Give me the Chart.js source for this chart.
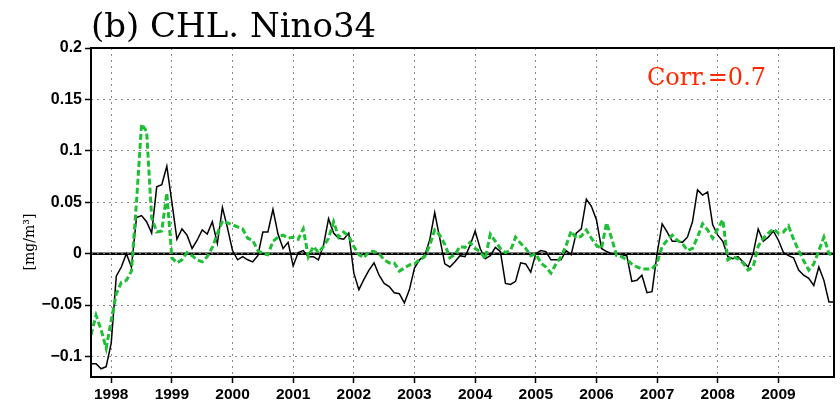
<!DOCTYPE html>
<html>
<head>
<meta charset="utf-8">
<script src="https://cdn.jsdelivr.net/npm/chart.js@4/dist/chart.umd.min.js"></script>
<style>
  html, body { margin: 0; padding: 0; background: #fff; }
  #c { display: block; }
</style>
</head>
<body>
<canvas id="c" width="840" height="404"></canvas>
<script>
// Monthly anomalies, Sep 1997 .. Dec 2009
const startYear = 1997;
const startMonth = 9;
const yearTicks = [1998, 1999, 2000, 2001, 2002, 2003, 2004, 2005, 2006, 2007, 2008, 2009];
const valueTicks = [-0.1, -0.05, 0, 0.05, 0.1, 0.15, 0.2];

// Chlorophyll anomaly (black solid)
const chlAnomaly = [
  -0.107, -0.107, -0.112, -0.110,
  -0.087, -0.022, -0.013, 0.000, -0.013, 0.035, 0.037, 0.031, 0.020, 0.065, 0.067, 0.085,
  0.050, 0.014, 0.024, 0.018, 0.005, 0.013, 0.023, 0.019, 0.031, 0.010, 0.045, 0.025,
  0.003, -0.006, -0.003, -0.006, -0.008, -0.002, 0.021, 0.021, 0.043, 0.019, 0.005, 0.011,
  -0.012, 0.001, 0.003, -0.003, -0.003, -0.006, 0.008, 0.034, 0.020, 0.015, 0.014, 0.020,
  -0.019, -0.035, -0.025, -0.016, -0.009, -0.021, -0.029, -0.032, -0.038, -0.039, -0.048, -0.035,
  -0.014, -0.006, -0.002, 0.013, 0.040, 0.015, -0.010, -0.013, -0.008, -0.002, -0.003, 0.008,
  0.022, 0.005, -0.005, -0.002, 0.006, 0.002, -0.029, -0.030, -0.027, -0.009, -0.010, -0.018,
  0.000, 0.003, 0.002, -0.006, -0.006, -0.006, 0.003, -0.001, 0.020, 0.024, 0.053, 0.046,
  0.033, 0.005, 0.002, 0.000, 0.000, -0.001, -0.002, -0.027, -0.026, -0.021, -0.038, -0.037,
  0.000, 0.029, 0.021, 0.012, 0.012, 0.011, 0.016, 0.031, 0.062, 0.057, 0.060, 0.028,
  0.018, 0.012, -0.003, -0.005, -0.003, -0.008, -0.013, 0.000, 0.024, 0.012, 0.016, 0.022,
  0.013, 0.001, -0.002, -0.004, -0.016, -0.021, -0.024, -0.031, -0.013, -0.026, -0.047, -0.047
];

// Nino3.4-based reconstruction (green dashed)
const ninoFit = [
  -0.079, -0.060, -0.074, -0.092,
  -0.065, -0.039, -0.028, -0.026, -0.017, 0.050, 0.126, 0.119, 0.035, 0.021, 0.022, 0.059,
  -0.004, -0.009, -0.006, 0.001, -0.002, -0.006, -0.008, -0.003, 0.006, 0.019, 0.032, 0.030,
  0.028, 0.026, 0.024, 0.015, 0.013, 0.003, 0.000, -0.001, 0.012, 0.016, 0.018, 0.015,
  0.016, 0.014, 0.024, -0.003, 0.007, 0.001, 0.007, 0.015, 0.031, 0.016, 0.021, 0.017,
  0.007, -0.001, -0.004, 0.002, 0.002, 0.000, -0.006, -0.009, -0.009, -0.017, -0.014, -0.011,
  -0.010, -0.006, -0.003, 0.008, 0.023, 0.018, 0.009, -0.004, -0.001, 0.007, 0.006, 0.011,
  0.005, 0.002, -0.005, 0.019, 0.012, 0.005, 0.001, 0.003, 0.016, 0.010, 0.005, -0.002,
  0.000, -0.009, -0.013, -0.019, -0.010, -0.003, 0.008, 0.022, 0.015, 0.017, 0.023, 0.015,
  0.008, 0.005, 0.030, 0.015, -0.002, -0.003, -0.006, -0.010, -0.013, -0.015, -0.015, -0.015,
  -0.009, 0.007, 0.013, 0.018, 0.013, 0.010, 0.003, 0.005, 0.016, 0.029, 0.023, 0.015,
  0.024, 0.033, -0.006, -0.003, -0.005, -0.009, -0.016, -0.013, 0.007, 0.015, 0.020, 0.024,
  0.020, 0.021, 0.027, 0.014, 0.003, -0.007, -0.016, -0.010, 0.003, 0.016, 0.000, -0.003
];

const titleText = '(b) CHL. Nino34';
const corrText = 'Corr.=0.7';
const unitText = '[mg/m\u00B3]';

const monthPos = i => startYear + (startMonth - 1 + i) / 12;
const toPoints = arr => arr.map((v, i) => ({ x: monthPos(i), y: v }));

const labelFamily = '"Liberation Sans", Arial, sans-serif';

const decor = {
  id: 'decor',
  beforeDatasetsDraw(chart) {
    const { ctx, chartArea: a, scales } = chart;
    const y0 = scales.y.getPixelForValue(0);
    ctx.save();
    ctx.strokeStyle = '#000';
    ctx.lineWidth = 2.5;
    ctx.beginPath();
    ctx.moveTo(a.left, y0);
    ctx.lineTo(a.right, y0);
    ctx.stroke();
    ctx.strokeStyle = '#8a8a8a';
    ctx.lineWidth = 1;
    ctx.setLineDash([2, 4]);
    ctx.beginPath();
    ctx.moveTo(a.left, y0);
    ctx.lineTo(a.right, y0);
    ctx.stroke();
    ctx.restore();
  },
  afterDraw(chart) {
    const { ctx, chartArea: a } = chart;
    ctx.save();
    ctx.strokeStyle = '#000';
    ctx.lineWidth = 2;
    ctx.setLineDash([]);
    ctx.strokeRect(a.left, a.top, a.right - a.left, a.bottom - a.top);

    ctx.fillStyle = '#000';
    ctx.textAlign = 'left';
    ctx.textBaseline = 'alphabetic';
    ctx.font = '34px "DejaVu Serif", serif';
    ctx.fillText(titleText, 91, 37);

    ctx.fillStyle = '#ff2a00';
    ctx.font = '24px "DejaVu Serif", serif';
    ctx.fillText(corrText, 647, 85);

    ctx.fillStyle = '#000';
    ctx.font = '14px "DejaVu Serif", serif';
    ctx.translate(34, 242);
    ctx.rotate(-Math.PI / 2);
    ctx.textAlign = 'center';
    ctx.fillText(unitText, 0, 0);
    ctx.restore();
  }
};

new Chart(document.getElementById('c'), {
  type: 'line',
  data: {
    datasets: [
      {
        label: 'CHL',
        data: toPoints(chlAnomaly),
        borderColor: '#000',
        borderWidth: 1.5,
        pointRadius: 0,
        tension: 0,
        fill: false,
        order: 2
      },
      {
        label: 'Nino34',
        data: toPoints(ninoFit),
        borderColor: '#1fbf35',
        borderWidth: 3,
        borderDash: [6, 3],
        pointRadius: 0,
        tension: 0,
        fill: false,
        order: 1
      }
    ]
  },
  options: {
    responsive: false,
    animation: false,
    devicePixelRatio: 1,
    layout: { padding: { top: 48, right: 6, bottom: 0, left: 0 } },
    plugins: { legend: { display: false }, title: { display: false }, tooltip: { enabled: false } },
    scales: {
      x: {
        type: 'linear',
        min: monthPos(0),
        max: monthPos(chlAnomaly.length - 1),
        afterBuildTicks: s => { s.ticks = yearTicks.map(v => ({ value: v })); },
        afterFit: s => { s.height = 27; },
        ticks: {
          color: '#000',
          font: { family: labelFamily, size: 15.5, weight: 'bold' },
          padding: 2,
          maxRotation: 0,
          autoSkip: false,
          callback: v => String(v)
        },
        grid: {
          color: '#8a8a8a',
          lineWidth: 1,
          drawTicks: true,
          tickLength: 6,
          tickColor: '#000',
          tickWidth: 1.5
        },
        border: { display: false, dash: [2, 4] }
      },
      y: {
        min: -0.12,
        max: 0.2,
        afterBuildTicks: s => { s.ticks = valueTicks.map(v => ({ value: v })); },
        afterFit: s => { s.width = 91; },
        ticks: {
          color: '#000',
          font: { family: labelFamily, size: 16, weight: 'bold' },
          padding: 3,
          callback: v => v === 0 ? '0' : (v < 0 ? '\u2212' + String(Math.abs(v)) : String(v))
        },
        grid: {
          color: '#8a8a8a',
          lineWidth: 1,
          drawTicks: true,
          tickLength: 6,
          tickColor: '#000',
          tickWidth: 1.5
        },
        border: { display: false, dash: [2, 4] }
      }
    }
  },
  plugins: [decor]
});
</script>
</body>
</html>
